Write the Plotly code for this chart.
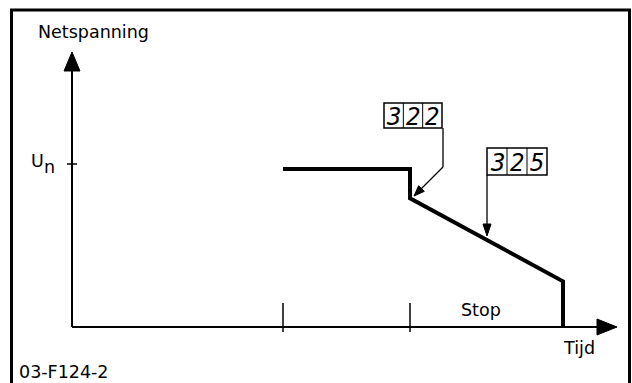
import plotly.graph_objects as go

# stop curve: time (arbitrary units) and mains voltage relative to U_n
time = [4.22, 6.76, 6.76, 9.82, 9.82]
voltage = [0.97, 0.97, 0.79, 0.28, 0.0]
tick_times = [4.22, 6.76]
u_n = 1.0
param_labels = ["322", "325"]

W, H = 632, 383
X0, Y0 = 72, 327   # pixel position of the origin
SX, SY = 50, 163   # pixels per unit


def dx(p):
    return (p - X0) / SX


def dy(p):
    return (Y0 - p) / SY


FONT = "DejaVu Sans"
fig = go.Figure()

fig.add_trace(go.Scatter(x=time, y=voltage, mode="lines",
                         line=dict(color="black", width=4), hoverinfo="skip"))

shapes = []


def seg(x0, y0, x1, y1, w=1.5):
    shapes.append(dict(type="line", xref="x", yref="y", x0=dx(x0), y0=dy(y0),
                       x1=dx(x1), y1=dy(y1), line=dict(color="black", width=w)))


def tri(tip, base, half):
    # filled arrowhead, tip and base centre given in pixels
    ux, uy = tip[0] - base[0], tip[1] - base[1]
    n = (ux ** 2 + uy ** 2) ** 0.5
    ux, uy = ux / n, uy / n
    p1 = (base[0] - uy * half, base[1] + ux * half)
    p2 = (base[0] + uy * half, base[1] - ux * half)
    path = "M {} {} L {} {} L {} {} Z".format(dx(tip[0]), dy(tip[1]), dx(p1[0]), dy(p1[1]),
                                              dx(p2[0]), dy(p2[1]))
    shapes.append(dict(type="path", xref="x", yref="y", path=path,
                       fillcolor="black", line=dict(color="black", width=1)))


# frame
shapes.append(dict(type="rect", xref="paper", yref="paper", x0=11.5 / W, x1=629.5 / W,
                   y0=-0.1, y1=1 - 10 / H, line=dict(color="black", width=3)))

# axes with arrowheads
seg(X0, Y0, X0, 69, 2)
tri((X0, 52), (X0, 71), 8)
seg(X0, Y0, 600, Y0, 2)
tri((617, Y0), (597, Y0), 8)

# U_n tick and time ticks
seg(67, Y0 - u_n * SY, 77, Y0 - u_n * SY, 1.5)
for t in tick_times:
    px_ = X0 + t * SX
    seg(px_, 303, px_, 332, 1.5)

# parameter boxes and callouts
boxes = [(384, 103, 442, 128), (487, 148, 547, 175)]
for (x0, y0, x1, y1) in boxes:
    shapes.append(dict(type="rect", xref="x", yref="y", x0=dx(x0), y0=dy(y0),
                       x1=dx(x1), y1=dy(y1), line=dict(color="black", width=1.5)))
    w3 = (x1 - x0) / 3
    for k in (1, 2):
        seg(x0 + k * w3, y0, x0 + k * w3, y1, 1)

seg(443, 128, 443, 167, 1.3)
seg(443, 167, 421, 189, 1.3)
tri((414, 196), (421.5, 188.5), 4)
seg(487, 175, 487, 225, 1.3)
tri((487, 236), (487, 224), 4)

fig.update_layout(shapes=shapes)

annotations = []


def label(text, x, y, size=17.5, **kw):
    annotations.append(dict(text=text, x=dx(x), y=dy(y), xref="x", yref="y", showarrow=False,
                            font=dict(family=FONT, size=size, color="black"), **kw))


label("Netspanning", 93, 32)
label("U", 37, 161)
label("n", 49, 167)
label("Stop", 481, 310)
label("Tijd", 579, 348)
label("03-F124-2", 64, 372)

for lab, (x0, y0, x1, y1) in zip(param_labels, boxes):
    w3 = (x1 - x0) / 3
    for k, ch in enumerate(lab):
        annotations.append(dict(text="<i>" + ch + "</i>", x=dx(x0 + (k + 0.5) * w3),
                                y=dy((y0 + y1) / 2 + 1), xref="x", yref="y", showarrow=False,
                                font=dict(family="DejaVu Sans Mono", size=24, color="black")))

fig.update_layout(
    annotations=annotations,
    width=W, height=H,
    margin=dict(l=0, r=0, t=0, b=0),
    paper_bgcolor="white", plot_bgcolor="white",
    showlegend=False,
    xaxis=dict(range=[dx(0), dx(W)], visible=False, fixedrange=True),
    yaxis=dict(range=[dy(H), dy(0)], visible=False, fixedrange=True),
)

fig.write_html("out.html", config={"displayModeBar": False},
               post_script="document.body.style.margin='0';")
